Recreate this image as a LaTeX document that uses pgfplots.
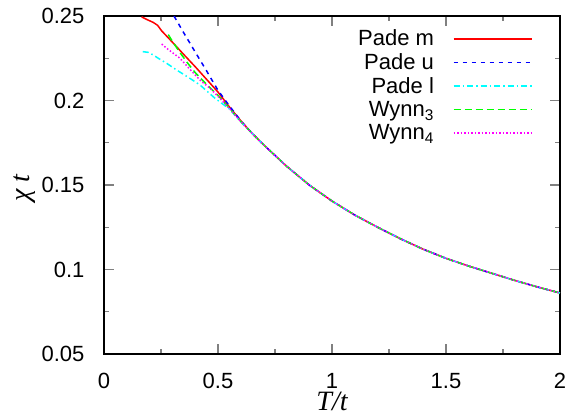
\documentclass[border=0pt]{standalone}
\usepackage{pgfplots}
\pgfplotsset{compat=1.18}
\usepackage{fontspec}
\setmainfont{Liberation Sans}
\newfontfamily\tnr{Liberation Serif}
\definecolor{gred}{RGB}{255,0,0}
\definecolor{gblue}{RGB}{0,0,255}
\definecolor{gcyan}{RGB}{0,255,255}
\definecolor{ggreen}{RGB}{0,255,0}
\definecolor{gmag}{RGB}{255,0,255}
\begin{document}
\begin{tikzpicture}
\begin{axis}[
 scale only axis, width=456pt, height=338pt,
 xmin=0, xmax=2, ymin=0.05, ymax=0.25,
 xtick={0,0.5,1,1.5,2}, ytick={0.05,0.1,0.15,0.2,0.25},
 xticklabels={0,0.5,1,1.5,2}, yticklabels={0.05,0.1,0.15,0.2,0.25},
 minor x tick num=1, minor y tick num=1,
 tick align=inside, major tick length=10pt, minor tick length=5pt,
 axis line style={line width=1.2pt},
 every tick/.append style={line width=1.2pt},
 ticklabel style={font=\fontsize{22}{26}\selectfont},
 xticklabel style={yshift=-16pt},
 yticklabel style={xshift=-16pt},
 xlabel={\tnr\itshape T/t},
 ylabel={\tnr\itshape χ t},
 label style={font=\fontsize{28}{32}\selectfont},
 xlabel style={at={(axis description cs:0.5,-0.166)}, anchor=base},
 ylabel style={at={(axis description cs:-0.1623,0.49)}, anchor=base},
 legend plot pos=right,
 legend cell align=right,
 legend image code/.code={\draw[#1] (0pt,0pt) -- (78pt,0pt);},
 legend style={draw=none, at={(rel axis cs:0.94,0.965)}, anchor=north east,
   inner sep=0pt, row sep=2.3pt, column sep=17pt,
   font=\fontsize{22}{22}\selectfont},
]
\addplot[color=gred, line width=1.5pt] coordinates {
(0.165,0.2495)(0.19,0.2478)(0.216,0.2462)(0.235,0.2445)(0.253,0.2412)(0.3,0.2345)(0.35,0.2272)(0.4,0.2200)(0.45,0.2125)(0.5,0.2050)(0.55,0.1962)(0.6,0.1880)
(0.65,0.1805)(0.7,0.1738)(0.8,0.1612)(0.9,0.1500)(1.0,0.1405)(1.1,0.1322)(1.2,0.1250)(1.3,0.1182)(1.4,0.1120)(1.5,0.1066)(1.6,0.1020)(1.7,0.0978)(1.8,0.0936)(1.9,0.0897)(2.0,0.0861)};
\addlegendentry{\strut Pade m}
\addplot[color=gblue, line width=1.5pt, dash pattern=on 4.5pt off 4.5pt] coordinates {
(0.307,0.2500)(0.35,0.2400)(0.4,0.2287)(0.45,0.2175)(0.5,0.2060)(0.55,0.1968)(0.6,0.1880)
(0.65,0.1805)(0.7,0.1738)(0.8,0.1612)(0.9,0.1500)(1.0,0.1405)(1.1,0.1322)(1.2,0.1250)(1.3,0.1182)(1.4,0.1120)(1.5,0.1066)(1.6,0.1020)(1.7,0.0978)(1.8,0.0936)(1.9,0.0897)(2.0,0.0861)};
\addlegendentry{\strut Pade u}
\addplot[color=gcyan, line width=1.5pt, dash pattern=on 6pt off 3pt on 1.5pt off 3pt] coordinates {
(0.17,0.2289)(0.194,0.2285)(0.215,0.2270)(0.238,0.2250)(0.275,0.2220)(0.319,0.2180)(0.37,0.2137)(0.421,0.2092)(0.487,0.2013)(0.5,0.2000)(0.55,0.1950)(0.6,0.1873)
(0.65,0.1805)(0.7,0.1738)(0.8,0.1612)(0.9,0.1500)(1.0,0.1405)(1.1,0.1322)(1.2,0.1250)(1.3,0.1182)(1.4,0.1120)(1.5,0.1066)(1.6,0.1020)(1.7,0.0978)(1.8,0.0936)(1.9,0.0897)(2.0,0.0861)};
\addlegendentry{\strut Pade l}
\addplot[color=ggreen, line width=1.5pt, dash pattern=on 7pt off 4pt] coordinates {
(0.282,0.2390)(0.3,0.2350)(0.33,0.2290)(0.363,0.2228)(0.4,0.2165)(0.45,0.2095)(0.5,0.2030)(0.55,0.1955)(0.6,0.1876)
(0.65,0.1805)(0.7,0.1738)(0.8,0.1612)(0.9,0.1500)(1.0,0.1405)(1.1,0.1322)(1.2,0.1250)(1.3,0.1182)(1.4,0.1120)(1.5,0.1066)(1.6,0.1020)(1.7,0.0978)(1.8,0.0936)(1.9,0.0897)(2.0,0.0861)};
\addlegendentry{\strut Wynn\textsubscript{3}}
\addplot[color=gmag, line width=1.5pt, dash pattern=on 1.5pt off 2pt] coordinates {
(0.253,0.2334)(0.275,0.2309)(0.333,0.2250)(0.38,0.2180)(0.421,0.2121)(0.465,0.2072)(0.5,0.2025)(0.55,0.1952)(0.6,0.1875)
(0.65,0.1805)(0.7,0.1738)(0.8,0.1612)(0.9,0.1500)(1.0,0.1405)(1.1,0.1322)(1.2,0.1250)(1.3,0.1182)(1.4,0.1120)(1.5,0.1066)(1.6,0.1020)(1.7,0.0978)(1.8,0.0936)(1.9,0.0897)(2.0,0.0861)};
\addlegendentry{\strut Wynn\textsubscript{4}}
\end{axis}
\pgfresetboundingbox
\path ([xshift=-104pt,yshift=-64pt]current axis.south west) rectangle ([xshift=19pt,yshift=16pt]current axis.north east);
\end{tikzpicture}
\end{document}
